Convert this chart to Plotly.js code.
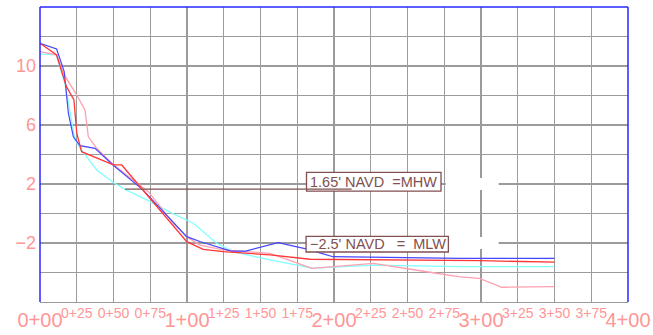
<!DOCTYPE html>
<html>
<head>
<meta charset="utf-8">
<script src="https://cdn.plot.ly/plotly-3.0.1.min.js"></script>
<style>
  html, body { margin: 0; padding: 0; background: #fff; }
  #plot { width: 653px; height: 335px; }
</style>
</head>
<body>
<div id="plot"></div>
<script>
// Beach profile survey: station (ft) vs elevation (ft NAVD)

// Station tick labels
const majorStations = [0, 100, 200, 300, 400];
const majorLabels = ['0+00', '1+00', '2+00', '3+00', '4+00'];
const minorStations = [25, 50, 75, 125, 150, 175, 225, 250, 275, 325, 350, 375];
const minorLabels = ['0+25', '0+50', '0+75', '1+25', '1+50', '1+75',
                     '2+25', '2+50', '2+75', '3+25', '3+50', '3+75'];

// Elevation tick labels
const elevTicks = [10, 6, 2, -2];
const elevLabels = ['10', '6', '2', '\u22122'];

// Profile surveys
const blueStation = [0, 11.3, 16.5, 18, 19.3, 22.7, 27.2, 37.4, 49.7, 70, 99.8, 108.8, 122, 130, 140, 156.5, 162, 181, 199.3, 285.7, 350];
const blueElev    = [11.54, 11.15, 9.6, 8.0, 6.8, 5.2, 4.6, 4.42, 3.29, 1.6, -1.57, -1.9, -2.3, -2.55, -2.55, -2.1, -1.98, -2.4, -2.93, -3.04, -3.04];

const redStation = [0, 11.3, 18, 23.1, 25, 28.3, 49.9, 55.6, 99.8, 111, 124.7, 156.5, 183.7, 300, 350];
const redElev    = [11.54, 10.75, 8.6, 7.7, 5.44, 4.19, 3.29, 3.29, -1.91, -2.43, -2.59, -2.81, -3.1, -3.2, -3.3];

const pinkStation = [0, 11.3, 15.9, 25, 30.6, 32.9, 38.6, 49.9, 73.7, 90.7, 99.8, 108.8, 124.7, 156.5, 185, 226.8, 263, 285.7, 299, 314, 350];
const pinkElev    = [10.97, 10.75, 9.5, 8.03, 7.0, 5.2, 4.42, 3.3, 1.48, -0.66, -1.57, -2.14, -2.47, -2.7, -3.72, -3.38, -3.95, -4.29, -4.4, -5.0, -4.96];

const cyanStation = [0, 11, 17, 20.5, 23.8, 28.3, 38.6, 49.9, 57.8, 72.6, 90, 104.3, 113.4, 120.2, 131.5, 156.5, 185, 228, 285, 350];
const cyanElev    = [10.8, 10.75, 8.8, 6.8, 4.98, 4.3, 2.95, 2.1, 1.64, 0.92, 0.01, -0.66, -1.46, -2.02, -2.59, -3.15, -3.7, -3.5, -3.6, -3.6];

// Tidal datums
const mhwElev = 1.65;
const mhwText = "1.65' NAVD\u00a0\u00a0=MHW";
const mlwElev = -2.5;
const mlwText = "\u22122.5' NAVD\u00a0\u00a0\u00a0=\u00a0\u00a0MLW";

const labelPink = 'rgb(255,150,150)';
const gridGray = 'rgb(155,155,155)';
const frameBlue = 'rgb(40,40,255)';
const datumBrown = 'rgb(130,80,80)';

function profile(x, y, color, width) {
  return { type: 'scatter', mode: 'lines', x: x, y: y,
           line: { color: color, width: width }, hoverinfo: 'skip', showlegend: false };
}

const traces = [
  profile(cyanStation, cyanElev, 'rgb(130,255,255)', 1.3),
  profile(pinkStation, pinkElev, 'rgb(255,160,175)', 1.3),
  profile(blueStation, blueElev, 'rgb(70,70,255)', 1.2),
  profile(redStation, redElev, 'rgb(255,55,55)', 1.3),
  // carries the secondary station labels
  { type: 'scatter', mode: 'lines', x: minorStations, y: minorStations.map(() => null),
    xaxis: 'x2', hoverinfo: 'skip', showlegend: false }
];

const shapes = [
  // gaps in the grid beside the datum labels
  { type: 'rect', layer: 'between', xref: 'x', yref: 'y', x0: 276, x1: 312, y0: 1.6, y1: 2.4,
    fillcolor: '#fff', line: { width: 0 } },
  { type: 'rect', layer: 'between', xref: 'x', yref: 'y', x0: 276, x1: 312, y0: -2.4, y1: -1.6,
    fillcolor: '#fff', line: { width: 0 } },
  // datum boxes
  { type: 'rect', xref: 'x', yref: 'y', x0: 181.3, x1: 272.8, y0: 1.52, y1: 2.79,
    fillcolor: '#fff', line: { color: datumBrown, width: 1.3 } },
  { type: 'rect', xref: 'x', yref: 'y', x0: 181, x1: 277.8, y0: -2.61, y1: -1.55,
    fillcolor: '#fff', line: { color: datumBrown, width: 1.3 } },
  // MHW leader line
  { type: 'line', xref: 'x', yref: 'y', x0: 57.8, x1: 212, y0: mhwElev, y1: mhwElev,
    line: { color: datumBrown, width: 1.3 } },
  // frame: top, left, right
  { type: 'line', xref: 'paper', yref: 'paper', x0: 0, x1: 1, y0: 1, y1: 1, line: { color: frameBlue, width: 1.5 } },
  { type: 'line', xref: 'paper', yref: 'paper', x0: 0, x1: 0, y0: 0, y1: 1, line: { color: frameBlue, width: 1.5 } },
  { type: 'line', xref: 'paper', yref: 'paper', x0: 1, x1: 1, y0: 0, y1: 1, line: { color: frameBlue, width: 1.5 } }
];

const annotations = [
  { xref: 'x', yref: 'y', x: 182.3, y: 2.16, xanchor: 'left', yanchor: 'middle', showarrow: false,
    text: mhwText, font: { family: 'Liberation Sans, Arial, sans-serif', size: 14.5, color: datumBrown } },
  { xref: 'x', yref: 'y', x: 182.3, y: -2.07, xanchor: 'left', yanchor: 'middle', showarrow: false,
    text: mlwText, font: { family: 'Liberation Sans, Arial, sans-serif', size: 14.5, color: datumBrown } }
];

const layout = {
  width: 653, height: 335,
  margin: { l: 40, r: 25, t: 7, b: 33 },
  paper_bgcolor: '#fff', plot_bgcolor: '#fff',
  font: { family: 'Liberation Sans, Arial, sans-serif', color: labelPink },
  xaxis: {
    range: [0, 400], tickmode: 'array', tickvals: majorStations, ticktext: majorLabels,
    tickfont: { size: 20, color: labelPink }, ticks: '', ticklabelstandoff: 0,
    showgrid: true, gridcolor: gridGray, gridwidth: 1.3, zeroline: false,
    showline: true, linecolor: gridGray, linewidth: 1.3,
    minor: { tickvals: minorStations, showgrid: true, gridcolor: gridGray, gridwidth: 1.3, ticks: '' },
    fixedrange: true
  },
  xaxis2: {
    overlaying: 'x', anchor: 'y', side: 'bottom', range: [0, 400],
    tickmode: 'array', tickvals: minorStations, ticktext: minorLabels,
    tickfont: { size: 14, color: labelPink }, ticks: '', ticklabelstandoff: 1,
    showgrid: false, zeroline: false, showline: false, fixedrange: true
  },
  yaxis: {
    range: [-6, 14], tickmode: 'array', tickvals: elevTicks, ticktext: elevLabels,
    tickfont: { size: 18, color: labelPink }, ticks: '', ticklabelstandoff: 3,
    showgrid: true, gridcolor: gridGray, gridwidth: 1.3, zeroline: false,
    minor: { dtick: 2, tick0: 0, showgrid: true, gridcolor: gridGray, gridwidth: 1.3, ticks: '' },
    fixedrange: true
  },
  shapes: shapes,
  annotations: annotations,
  showlegend: false
};

Plotly.newPlot('plot', traces, layout, { staticPlot: true, displayModeBar: false });
</script>
</body>
</html>
